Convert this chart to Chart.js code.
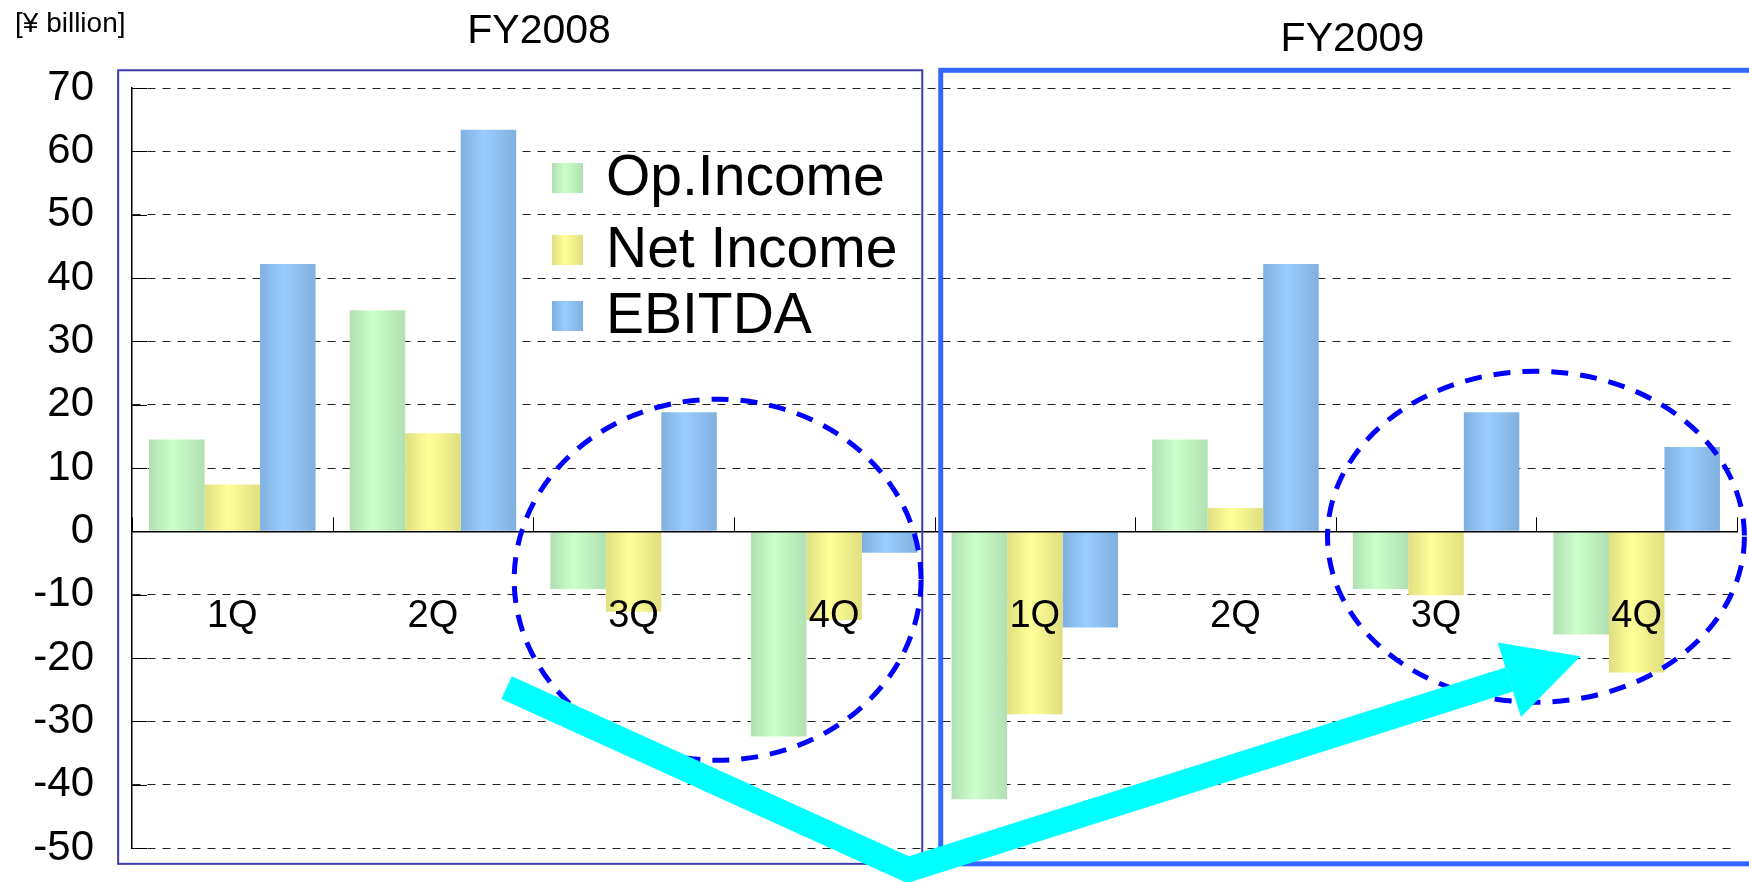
<!DOCTYPE html>
<html>
<head>
<meta charset="utf-8">
<script src="https://cdn.jsdelivr.net/npm/chart.js@4/dist/chart.umd.min.js"></script>
<style>
html,body{margin:0;padding:0;background:#fff;}
canvas{display:block;}
</style>
</head>
<body>
<canvas id="c" width="1749" height="882"></canvas>
<script>
// ---- data ----
const categories = ['1Q', '2Q', '3Q', '4Q', '1Q', '2Q', '3Q', '4Q'];
const fiscalYears = ['FY2008', 'FY2009'];
const seriesNames = ['Op.Income', 'Net Income', 'EBITDA'];
const opIncome  = [14.5, 34.9, -9.1, -32.4, -42.3, 14.5, -9.1, -16.3];
const netIncome = [7.4, 15.5, -12.7, -14.0, -28.9, 3.7, -10.1, -22.3];
const ebitda    = [42.2, 63.4, 18.8, -3.4, -15.2, 42.2, 18.8, 13.3];
const yTicks = [70, 60, 50, 40, 30, 20, 10, 0, -10, -20, -30, -40, -50];
const unitLabel = '[¥ billion]';

// ---- style ----
const FONT = "'Liberation Sans', Arial, sans-serif";
const CAT_PCT = 0.83;
const colorStops = [
  ['#b1dfb1', '#ccffcc'],
  ['#dfdf80', '#ffff99'],
  ['#80b0de', '#99ccff']
];

function makeGrad(chart, x0, x1, ds) {
  const g = chart.ctx.createLinearGradient(x0, 0, x1, 0);
  g.addColorStop(0, colorStops[ds][0]);
  g.addColorStop(0.42, colorStops[ds][1]);
  g.addColorStop(1, colorStops[ds][0]);
  return g;
}
function barFill(ctx) {
  const chart = ctx.chart, ds = ctx.datasetIndex;
  const xs = chart.scales.x, area = chart.chartArea;
  if (ctx.type !== 'data' || !xs || !area) return colorStops[ds][1];
  const bw = (area.right - area.left) / categories.length * CAT_PCT / 3;
  const cx = xs.getPixelForValue(ctx.dataIndex) + (ds - 1) * bw;
  return makeGrad(chart, cx - bw / 2, cx + bw / 2, ds);
}

// annotation geometry in data units (x: category index, y: value)
const frameDefs = [
  {x0: -0.569, x1: 3.439, y0: 72.8, y1: -52.5, color: '#3c3caa', width: 2},
  {x0: 3.531, x1: 8.25, y0: 72.8, y1: -52.5, color: '#3366ff', width: 5}
];
const titlePos = [{x: 1.529, y: 78.9}, {x: 5.583, y: 77.6}];
const ellipseDefs = [
  {cx: 2.419, cy: -7.64, rx: 1.014, ry: 28.5},
  {cx: 6.498, cy: -0.85, rx: 1.039, ry: 26.13}
];
const arrowPath = [{x: 1.367, y: -24.69}, {x: 3.368, y: -53.43}, {x: 6.365, y: -23.4}];
const arrowHead = [{x: 6.307, y: -17.54}, {x: 6.72, y: -19.73}, {x: 6.423, y: -29.32}];

const decor = {
  id: 'decor',
  afterDatasetsDraw(chart) {
    const {ctx, chartArea: a, scales: {x, y}} = chart;
    ctx.save();
    ctx.strokeStyle = '#000';
    ctx.lineWidth = 1;
    // inward y ticks
    yTicks.forEach(v => {
      const py = Math.round(y.getPixelForValue(v)) + 0.5;
      ctx.beginPath(); ctx.moveTo(a.left, py); ctx.lineTo(a.left + 15, py); ctx.stroke();
    });
    // upward x ticks at category boundaries
    const y0 = y.getPixelForValue(0);
    for (let i = 0; i <= categories.length; i++) {
      const px = Math.round(x.getPixelForValue(i - 0.5)) + 0.5;
      ctx.beginPath(); ctx.moveTo(px, y0); ctx.lineTo(px, y0 - 14); ctx.stroke();
    }
    ctx.restore();
  },
  afterDraw(chart) {
    const {ctx, scales: {x, y}} = chart;
    const X = v => x.getPixelForValue(v), Y = v => y.getPixelForValue(v);
    ctx.save();
    // frames
    frameDefs.forEach(f => {
      ctx.strokeStyle = f.color; ctx.lineWidth = f.width;
      ctx.strokeRect(X(f.x0), Y(f.y0), X(f.x1) - X(f.x0), Y(f.y1) - Y(f.y0));
    });
    // titles
    ctx.fillStyle = '#000';
    ctx.font = '41px ' + FONT;
    ctx.textAlign = 'center'; ctx.textBaseline = 'middle';
    fiscalYears.forEach((t, i) => ctx.fillText(t, X(titlePos[i].x), Y(titlePos[i].y)));
    // unit label
    ctx.font = '28px ' + FONT;
    ctx.textAlign = 'left';
    ctx.fillText(unitLabel, 15, 24);
    // legend
    const rows = [195, 267, 333];
    seriesNames.forEach((name, i) => {
      ctx.fillStyle = makeGrad(chart, 552, 583, i);
      ctx.fillRect(552, rows[i] - 32, 31, 30);
      ctx.fillStyle = '#000';
      ctx.font = '57px ' + FONT;
      ctx.textBaseline = 'alphabetic';
      ctx.fillText(name, 606, rows[i]);
    });
    // dashed ellipses
    ctx.strokeStyle = '#0000ff'; ctx.lineWidth = 5; ctx.setLineDash([17, 12]);
    ellipseDefs.forEach(e => {
      const cx = X(e.cx), cy = Y(e.cy);
      const rx = Math.abs(X(e.cx + e.rx) - cx), ry = Math.abs(Y(e.cy + e.ry) - cy);
      ctx.beginPath(); ctx.ellipse(cx, cy, rx, ry, 0, 0, Math.PI * 2); ctx.stroke();
    });
    ctx.setLineDash([]);
    // cyan arrow
    ctx.strokeStyle = '#00ffff'; ctx.fillStyle = '#00ffff';
    ctx.lineWidth = 25; ctx.lineJoin = 'miter'; ctx.miterLimit = 10; ctx.lineCap = 'butt';
    ctx.beginPath();
    arrowPath.forEach((p, i) => i ? ctx.lineTo(X(p.x), Y(p.y)) : ctx.moveTo(X(p.x), Y(p.y)));
    ctx.stroke();
    ctx.beginPath();
    arrowHead.forEach((p, i) => i ? ctx.lineTo(X(p.x), Y(p.y)) : ctx.moveTo(X(p.x), Y(p.y)));
    ctx.closePath(); ctx.fill();
    ctx.restore();
  }
};

new Chart(document.getElementById('c'), {
  type: 'bar',
  data: {
    labels: categories,
    datasets: [
      {label: seriesNames[0], data: opIncome, backgroundColor: barFill, borderWidth: 0},
      {label: seriesNames[1], data: netIncome, backgroundColor: barFill, borderWidth: 0},
      {label: seriesNames[2], data: ebitda, backgroundColor: barFill, borderWidth: 0}
    ]
  },
  options: {
    responsive: false,
    animation: false,
    devicePixelRatio: 1,
    layout: {padding: {left: 0, top: 88, right: 12, bottom: 34}},
    datasets: {bar: {categoryPercentage: CAT_PCT, barPercentage: 1}},
    plugins: {legend: {display: false}, tooltip: {enabled: false}, title: {display: false}},
    scales: {
      x: {
        position: {y: 0},
        grid: {display: false, drawTicks: false},
        border: {display: true, color: '#000', width: 1.5, z: 1},
        ticks: {z: 1, padding: 62, color: '#000', font: {family: FONT, size: 38}, maxRotation: 0, autoSkip: false}
      },
      y: {
        min: Math.min(...yTicks),
        max: Math.max(...yTicks),
        afterFit: s => { s.width = 132; s.paddingTop = 0; s.paddingBottom = 0; },
        afterBuildTicks: s => { s.ticks = yTicks.slice().reverse().map(v => ({value: v})); },
        grid: {
          color: c => (c.tick && c.tick.value === 0) ? 'rgba(0,0,0,0)' : '#222',
          lineWidth: 1,
          drawTicks: false
        },
        border: {display: true, color: '#000', width: 1.5, dash: [8, 7]},
        ticks: {padding: 38, color: '#000', font: {family: FONT, size: 42}}
      }
    }
  },
  plugins: [decor]
});
</script>
</body>
</html>
